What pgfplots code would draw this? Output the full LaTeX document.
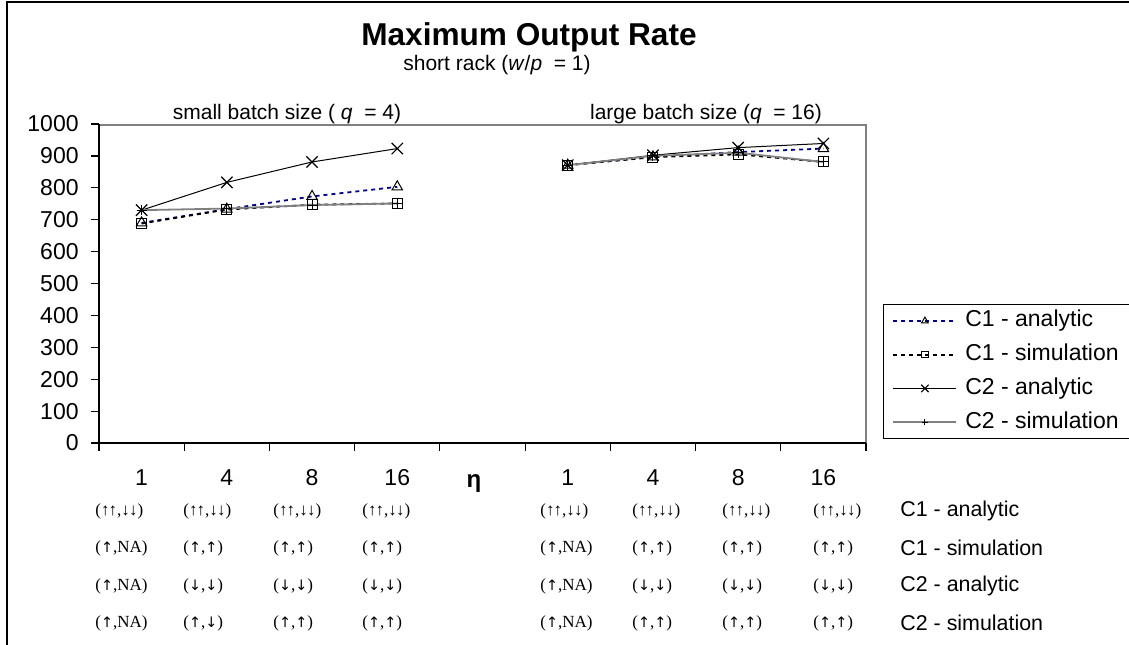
\documentclass[border=0pt]{standalone}
\usepackage{fontspec}
\setmainfont{Liberation Sans}
\newfontfamily\tms{Liberation Serif}
\newfontfamily\arr{DejaVu Sans}
\usepackage{pgfplots}
\pgfplotsset{compat=1.18}

\definecolor{navyline}{RGB}{0,0,128}
\definecolor{simgray}{RGB}{128,128,128}

% arrows in the table
\newcommand\uu{↑\kern-0.05em↑}
\newcommand\dd{↓\kern-0.05em↓}
\newcommand\up{{\arr\fontsize{7.2}{8}\selectfont ↑}}
\newcommand\dn{{\arr\fontsize{7.2}{8}\selectfont ↓}}

\pgfplotsset{
  c1a/.style={navyline, line width=0.9pt, dash pattern=on 2pt off 2pt,
    mark=triangle, mark size=3pt, mark options={solid, black, line width=0.5pt}},
  c1s/.style={black, line width=0.9pt, dash pattern=on 2pt off 2pt,
    mark=square, mark size=2.5pt, mark options={solid, black, line width=0.5pt}},
  c2a/.style={black, line width=0.5pt,
    mark=x, mark size=4pt, mark options={solid, black, line width=0.6pt}},
  c2s/.style={simgray, line width=0.9pt,
    mark=+, mark size=2.5pt, mark options={solid, black, line width=0.5pt}},
}

\begin{document}
\begin{tikzpicture}
\useasboundingbox (0pt,0pt) rectangle (564.5pt,-322pt);

% pixel coordinates of the reference, origin top left
\begin{scope}[x=0.5pt,y=-0.5pt]
  \draw[line width=0.75pt] (7,650) -- (7,2) -- (1135,2);
  \draw[simgray, line width=0.75pt] (99,125) -- (866,125) -- (866,443);

  \node[font=\fontsize{15.8}{18}\selectfont\bfseries] at (529,37) {Maximum Output Rate};
  \node[font=\fontsize{10.5}{12}\selectfont] at (497,65) {short rack (\textit{w}/\textit{p}\ \ = 1)};
  \node[font=\fontsize{10.5}{12}\selectfont] at (287,114) {small batch size ( \textit{q}\ \ = 4)};
  \node[font=\fontsize{10.5}{12}\selectfont] at (706,114) {large batch size (\textit{q}\ \ = 16)};
  \node[font=\fontsize{12}{14}\selectfont\bfseries] at (474,484) {η};

  \tikzset{tbl/.style={anchor=west, inner sep=0pt, font=\tms\fontsize{8.5}{10}\selectfont},
           rowlab/.style={anchor=west, inner sep=0pt, font=\fontsize{10.7}{12}\selectfont}}
  \foreach \x in {95,183,273,362,540,632,722,813}
    \node[tbl] at (\x,511) {(\uu,\dd)};
  \foreach \x/\t in {95/{(\up,NA)},183/{(\up,\up)},273/{(\up,\up)},362/{(\up,\up)},
                     540/{(\up,NA)},632/{(\up,\up)},722/{(\up,\up)},813/{(\up,\up)}}
    \node[tbl] at (\x,548) {\t};
  \foreach \x/\t in {95/{(\up,NA)},183/{(\dn,\dn)},273/{(\dn,\dn)},362/{(\dn,\dn)},
                     540/{(\up,NA)},632/{(\dn,\dn)},722/{(\dn,\dn)},813/{(\dn,\dn)}}
    \node[tbl] at (\x,586) {\t};
  \foreach \x/\t in {95/{(\up,NA)},183/{(\up,\dn)},273/{(\up,\up)},362/{(\up,\up)},
                     540/{(\up,NA)},632/{(\up,\up)},722/{(\up,\up)},813/{(\up,\up)}}
    \node[tbl] at (\x,623) {\t};

  \node[rowlab] at (900,511) {C1 - analytic};
  \node[rowlab] at (900,548) {C1 - simulation};
  \node[rowlab] at (900,586) {C2 - analytic};
  \node[rowlab] at (900,623) {C2 - simulation};
\end{scope}

\begin{axis}[
  at={(49.5pt,-221.5pt)}, anchor=south west,
  scale only axis, width=383.5pt, height=159.5pt,
  xmin=0.5, xmax=9.5, ymin=0, ymax=1000,
  axis lines=left, axis line style={-, black, line width=0.6pt},
  tick align=outside, major tick length=4pt,
  tick style={black, line width=0.6pt},
  xtick={0.5,1.5,...,9.5}, xticklabels={},
  extra x ticks={1,2,3,4,6,7,8,9},
  extra x tick labels={1,4,8,16,1,4,8,16},
  extra x tick style={major tick length=0pt},
  xticklabel style={anchor=center, yshift=-17.5pt, font=\fontsize{11.5}{13}\selectfont},
  ytick={0,100,...,1000},
  yticklabel style={anchor=east, inner sep=0pt, xshift=-6pt, font=\fontsize{11.5}{13}\selectfont},
  /pgf/number format/assume math mode=true,
  /pgf/number format/1000 sep={},
  unbounded coords=jump,
  legend style={
    at={(1.0222,0.4357)}, anchor=north west,
    draw=black, line width=0.5pt,
    font=\fontsize{11.5}{13}\selectfont,
    inner xsep=4.5pt, inner ysep=3pt,
    row sep=6.35pt, column sep=4pt,
    nodes={inner sep=0pt, text height=8.2pt, text depth=2.3pt},
    cells={anchor=west},
  },
  legend image code/.code={
    \draw[mark repeat=2, mark phase=2, #1] plot coordinates {(0pt,0pt) (15.75pt,0pt) (31.5pt,0pt)};
  },
  legend image post style={every mark/.append style={scale=0.65}},
]
\addplot[c1a] coordinates {(1,690) (2,733) (3,773) (4,803) (5,nan) (6,871) (7,897) (8,912) (9,923)};
\addplot[c1s] coordinates {(1,688) (2,732) (3,747) (4,751) (5,nan) (6,871) (7,896) (8,905) (9,881)};
\addplot[c2a] coordinates {(1,730) (2,817) (3,881) (4,923) (5,nan) (6,871) (7,902) (8,926) (9,939)};
\addplot[c2s] coordinates {(1,730) (2,735) (3,746) (4,751) (5,nan) (6,871) (7,900) (8,910) (9,881)};
\legend{C1 - analytic, C1 - simulation\rule{16pt}{0pt}, C2 - analytic, C2 - simulation}
\end{axis}
\end{tikzpicture}
\end{document}
